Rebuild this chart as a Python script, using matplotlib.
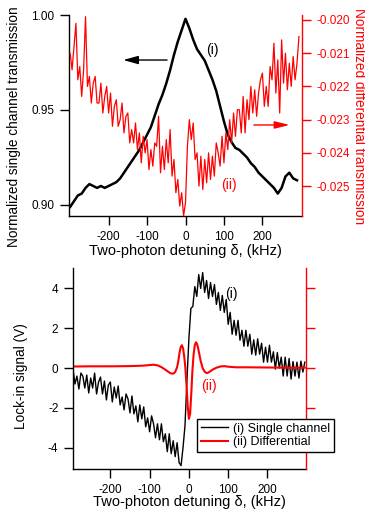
import numpy as np
import matplotlib
matplotlib.use("Agg")
import matplotlib.pyplot as plt

plt.rcParams["font.family"] = ["Liberation Sans", "DejaVu Sans"]
plt.rcParams["axes.unicode_minus"] = False

# ---- top panel: transmission vs two-photon detuning (kHz) ----
TOP_X_SINGLE = np.arange(-300, 300, 10)
TOP_SINGLE = [
    0.899, 0.902, 0.905, 0.906, 0.909, 0.911, 0.910, 0.909, 0.910, 0.909,
    0.910, 0.911, 0.912, 0.914, 0.917, 0.920, 0.923, 0.926, 0.929, 0.933,
    0.937, 0.941, 0.947, 0.953, 0.958, 0.964, 0.971, 0.979, 0.986, 0.992,
    0.998, 0.993, 0.987, 0.982, 0.979, 0.976, 0.971, 0.966, 0.960, 0.952,
    0.944, 0.937, 0.933, 0.930, 0.929, 0.927, 0.925, 0.922, 0.920, 0.917,
    0.915, 0.913, 0.911, 0.909, 0.906, 0.909, 0.915, 0.917, 0.914, 0.913,
]

TOP_X_DIFF = np.arange(-300, 300, 5)
TOP_DIFF = [
    -0.0210, -0.0215, -0.0208, -0.0201, -0.0218, -0.0214, -0.0223, -0.0215, -0.0199, -0.0220,
    -0.0217, -0.0225, -0.0219, -0.0217, -0.0225, -0.0225, -0.0219, -0.0228, -0.0223, -0.0220,
    -0.0228, -0.0222, -0.0232, -0.0226, -0.0224, -0.0232, -0.0230, -0.0225, -0.0234, -0.0229,
    -0.0228, -0.0237, -0.0233, -0.0237, -0.0231, -0.0239, -0.0234, -0.0243, -0.0235, -0.0240,
    -0.0236, -0.0245, -0.0239, -0.0244, -0.0237, -0.0238, -0.0229, -0.0246, -0.0238, -0.0245,
    -0.0236, -0.0243, -0.0233, -0.0247, -0.0242, -0.0252, -0.0248, -0.0256, -0.0252, -0.0259,
    -0.0255, -0.0238, -0.0230, -0.0236, -0.0231, -0.0242, -0.0240, -0.0250, -0.0241, -0.0251,
    -0.0242, -0.0249, -0.0240, -0.0248, -0.0241, -0.0247, -0.0237, -0.0240, -0.0244, -0.0235,
    -0.0243, -0.0234, -0.0239, -0.0230, -0.0237, -0.0228, -0.0235, -0.0227, -0.0227, -0.0234,
    -0.0223, -0.0234, -0.0224, -0.0230, -0.0220, -0.0228, -0.0221, -0.0229, -0.0222, -0.0218,
    -0.0216, -0.0226, -0.0220, -0.0226, -0.0214, -0.0218, -0.0207, -0.0222, -0.0212, -0.0228,
    -0.0206, -0.0219, -0.0210, -0.0221, -0.0213, -0.0220, -0.0211, -0.0218, -0.0213, -0.0205,
]

# ---- bottom panel: lock-in signal (V) ----
BOT_X_SINGLE = np.arange(-295, 300, 5)
BOT_SINGLE = [
    -0.05, -0.8, -0.4, -1.05, -0.25, -0.4, -1.0, -0.35, -1.25, -0.5,
    -1.0, -0.25, -1.3, -0.7, -0.45, -1.3, -0.65, -1.6, -0.85, -0.7,
    -1.7, -0.95, -1.5, -0.9, -1.85, -1.45, -2.1, -1.3, -1.55, -2.25,
    -1.4, -2.3, -1.9, -2.7, -1.85, -2.55, -1.95, -2.95, -2.5, -3.2,
    -2.4, -2.8, -3.5, -2.8, -3.6, -2.8, -3.7, -3.3, -4.2, -3.3,
    -4.3, -3.65, -4.45, -3.75, -4.75, -4.9, -4.0, -2.9, -0.6, 1.5,
    3.0, 3.1, 4.1, 3.6, 4.7, 4.0, 4.8, 3.8, 4.4, 3.5,
    4.3, 3.6, 4.2, 3.2, 3.8, 2.9, 3.65, 2.8, 3.45, 2.2,
    2.8, 1.7, 2.4, 1.65, 2.4, 1.4, 1.9, 1.1, 1.9, 1.1,
    1.7, 0.7, 1.42, 0.65, 1.47, 0.7, 1.25, 0.3, 1.05, 0.3,
    1.15, 0.3, 0.82, -0.05, 0.78, 0.0, 0.55, -0.4, 0.55, -0.4,
    0.48, -0.55, 0.33, -0.4, 0.3, -0.5, 0.35, -0.2, 0.3,
]

BOT_X_DIFF = [-295, -250, -200, -150, -120, -100, -90, -80, -70, -60,
              -55, -50, -45, -40, -35, -30, -27, -24, -21, -18,
              -15, -12, -9, -6, -3, 0, 3, 6, 9, 12,
              15, 18, 21, 24, 27, 30, 35, 40, 45, 50,
              55, 60, 70, 80, 90, 100, 120, 150, 200, 250, 295]
BOT_DIFF = [0.08, 0.09, 0.09, 0.10, 0.12, 0.15, 0.17, 0.14, 0.05, -0.08,
            -0.15, -0.22, -0.27, -0.28, -0.20, 0.05, 0.35, 0.75, 1.05, 1.15,
            1.0, 0.6, 0.0, -0.9, -1.9, -2.55, -2.3, -1.3, -0.1, 0.7,
            1.15, 1.3, 1.2, 0.95, 0.65, 0.35, 0.0, -0.18, -0.25, -0.22,
            -0.15, -0.08, 0.02, 0.08, 0.10, 0.07, 0.04, 0.04, 0.03, 0.02, 0.02]

XLABEL = "Two-photon detuning δ, (kHz)"
W, H = 365, 515


def style_pair(ax, axr):
    ax.spines["top"].set_visible(False)
    ax.spines["right"].set_visible(False)
    axr.spines["top"].set_visible(False)
    axr.spines["left"].set_visible(False)
    axr.spines["bottom"].set_visible(False)
    axr.spines["right"].set_color("red")
    ax.tick_params(direction="out", length=6.5, width=1, labelsize=8.5, pad=4)
    axr.tick_params(axis="y", direction="out", length=6.5, width=1, labelsize=8.5,
                    pad=4, colors="red")
    for a in (ax, axr):
        for s in a.spines.values():
            s.set_linewidth(1)


fig = plt.figure(figsize=(W / 100, H / 100), dpi=100)

# top panel
ax1 = fig.add_axes([69 / W, 1 - 216 / H, 233 / W, 201 / H])
ax1r = ax1.twinx()
style_pair(ax1, ax1r)

ax1.plot(TOP_X_SINGLE, TOP_SINGLE, color="black", lw=1.8)
ax1r.plot(TOP_X_DIFF, TOP_DIFF, color="red", lw=0.9)

ax1.set_xlim(-303, 303)
ax1.set_ylim(0.8942, 1.0)
ax1r.set_ylim(-0.0259, -0.01985)
ax1.set_xticks([-200, -100, 0, 100, 200])
ax1.set_yticks([0.90, 0.95, 1.00])
ax1.set_yticklabels(["0.90", "0.95", "1.00"])
ax1r.set_yticks([-0.025, -0.024, -0.023, -0.022, -0.021, -0.020])
ax1r.set_yticklabels(["-0.025", "-0.024", "-0.023", "-0.022", "-0.021", "-0.020"])

ax1.set_xlabel(XLABEL, fontsize=10.5, va="center")
ax1.xaxis.set_label_coords(0.5, -0.174)
ax1.set_ylabel("Normalized single channel transmission", fontsize=9.8)
ax1.yaxis.label.set(va="center", ha="center", rotation_mode="default")
ax1.yaxis.set_label_coords(-0.236, 0.443)
ax1r.set_ylabel("Normalized differential transmission", fontsize=9.8, color="red",
                rotation=270)
ax1r.yaxis.label.set(va="center", ha="center", rotation_mode="default")
ax1r.yaxis.set_label_coords(1.245, 0.495)

ax1.annotate("", xy=(-162, 0.9763), xytext=(-48, 0.9763),
             arrowprops=dict(arrowstyle="-|>,head_length=0.9,head_width=0.25",
                             color="black", lw=1, shrinkA=0, shrinkB=0,
                             mutation_scale=10))
ax1r.annotate("", xy=(271, -0.02316), xytext=(178, -0.02316),
              arrowprops=dict(arrowstyle="-|>,head_length=0.9,head_width=0.22",
                              color="red", lw=1, shrinkA=0, shrinkB=0,
                              mutation_scale=10))
ax1.text(69, 0.9816, "(i)", fontsize=10, ha="center", va="center")
ax1r.text(113, -0.02497, "(ii)", fontsize=10, color="red", ha="center", va="center")

# bottom panel
ax2 = fig.add_axes([73 / W, 1 - 469 / H, 233 / W, 201 / H])
ax2r = ax2.twinx()
style_pair(ax2, ax2r)

l1, = ax2.plot(BOT_X_SINGLE, BOT_SINGLE, color="black", lw=1.0)
l2, = ax2.plot(BOT_X_DIFF, BOT_DIFF, color="red", lw=1.5)

ax2.set_xlim(-295, 298)
ax2.set_ylim(-5.07, 5.03)
ax2r.set_ylim(-5.07, 5.03)
ax2.set_xticks([-200, -100, 0, 100, 200])
ax2.set_yticks([-4, -2, 0, 2, 4])
ax2r.set_yticks([-4, -2, 0, 2, 4])
ax2r.tick_params(axis="y", labelright=False)

ax2.set_xlabel(XLABEL, fontsize=10.5, va="center")
ax2.xaxis.set_label_coords(0.5, -0.164)
ax2.set_ylabel("Lock-in signal (V)", fontsize=9.8)
ax2.yaxis.label.set(va="center", ha="center", rotation_mode="default")
ax2.yaxis.set_label_coords(-0.223, 0.463)

ax2.text(109, 3.74, "(i)", fontsize=10, ha="center", va="center")
ax2.text(51, -0.9, "(ii)", fontsize=10, color="red", ha="center", va="center")

leg = ax2r.legend([l1, l2], ["(i) Single channel", "(ii) Differential"],
                  loc="upper left", bbox_to_anchor=(197 / W, 1 - 419 / H),
                  bbox_transform=fig.transFigure, fancybox=False,
                  edgecolor="black", framealpha=1, fontsize=9,
                  borderaxespad=0, handlelength=2.2, handletextpad=0.4,
                  labelspacing=0.1, borderpad=0.3)
leg.get_frame().set_linewidth(1.0)

fig.savefig("out.png", dpi=100)
